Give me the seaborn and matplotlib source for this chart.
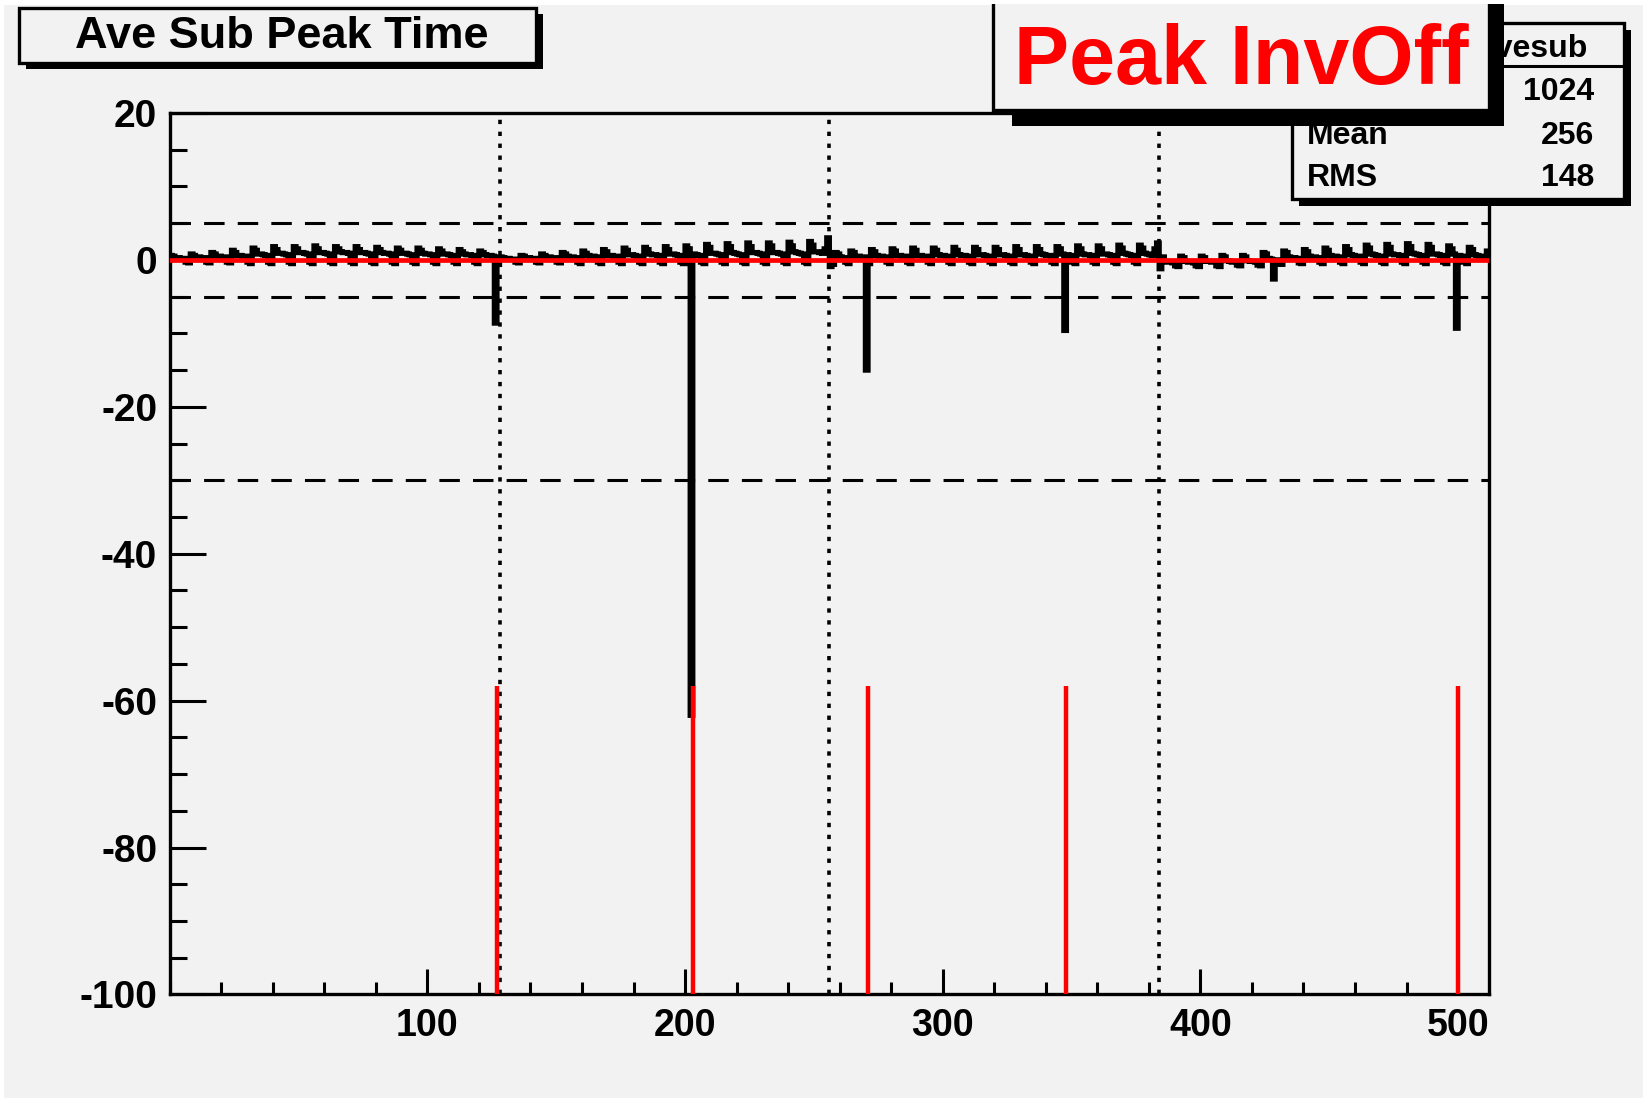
import numpy as np
import pandas as pd
import matplotlib
matplotlib.use("Agg")
import matplotlib.pyplot as plt
from matplotlib.patches import Rectangle
from matplotlib.ticker import FixedLocator, MultipleLocator
import seaborn as sns

# ---------------- data ----------------
# average subtracted peak time per channel, 512 channels (8 per row)
peak_time = [
    0.6, 0.5, 0.3, 0.3, 0.2, 0.2, -0.3, -0.4,
    0.8, 0.6, 0.4, 0.4, 0.3, 0.3, -0.3, -0.4,
    1.0, 0.8, 0.5, 0.5, 0.4, 0.4, -0.3, -0.4,
    1.3, 1.0, 0.6, 0.6, 0.5, 0.5, -0.3, -0.5,
    1.6, 1.3, 0.8, 0.8, 0.7, 0.6, -0.3, -0.5,
    1.8, 1.4, 0.9, 0.9, 0.8, 0.7, -0.3, -0.5,
    1.8, 1.5, 1.0, 1.0, 0.9, 0.8, -0.3, -0.5,
    1.9, 1.5, 1.0, 1.0, 0.9, 0.8, -0.3, -0.5,
    1.8, 1.5, 1.1, 1.0, 1.0, 0.9, -0.3, -0.5,
    1.8, 1.4, 1.0, 1.0, 0.9, 0.8, -0.3, -0.5,
    1.7, 1.4, 1.0, 0.9, 0.9, 0.8, -0.3, -0.5,
    1.6, 1.3, 0.9, 0.9, 0.8, 0.7, -0.3, -0.5,
    1.6, 1.3, 0.9, 0.8, 0.8, 0.7, -0.3, -0.5,
    1.5, 1.2, 0.8, 0.8, 0.7, 0.6, -0.3, -0.5,
    1.4, 1.1, 0.8, 0.7, 0.7, 0.6, -0.3, -0.5,
    1.2, 1.0, 0.7, 0.6, 0.6, 0.5, -8.6, -0.6,
    0.4, 0.3, 0.2, 0.2, 0.1, 0.1, -0.3, -0.4,
    0.6, 0.5, 0.3, 0.3, 0.2, 0.2, -0.3, -0.4,
    0.8, 0.6, 0.4, 0.4, 0.3, 0.3, -0.3, -0.4,
    1.0, 0.8, 0.5, 0.4, 0.4, 0.3, -0.3, -0.5,
    1.2, 0.9, 0.6, 0.5, 0.5, 0.4, -0.3, -0.5,
    1.4, 1.1, 0.6, 0.6, 0.5, 0.5, -0.3, -0.5,
    1.6, 1.3, 0.7, 0.7, 0.6, 0.5, -0.3, -0.5,
    1.7, 1.4, 0.8, 0.7, 0.7, 0.6, -0.3, -0.5,
    1.8, 1.4, 0.8, 0.8, 0.7, 0.6, -0.3, -0.5,
    1.9, 1.5, -62.0, 0.8, 0.7, 0.6, -0.3, -0.5,
    2.1, 1.7, 0.9, 0.9, 0.8, 0.7, -0.3, -0.5,
    2.2, 1.8, 1.0, 0.9, 0.8, 0.7, -0.3, -0.5,
    2.3, 1.8, 1.0, 1.0, 0.9, 0.8, -0.3, -0.5,
    2.3, 1.9, 1.0, 1.0, 0.9, 0.8, -0.3, -0.5,
    2.4, 1.9, 1.1, 1.0, 0.9, 0.8, -0.3, -0.5,
    2.5, 2.0, 1.1, 1.1, 1.0, 0.9, 1.5, 3.0,
    -0.9, -0.6, 1.0, 0.8, 0.4, 0.3, -0.3, -0.5,
    1.2, 1.0, 0.5, 0.5, 0.4, 0.4, -15.0, -0.5,
    1.4, 1.1, 0.6, 0.5, 0.5, 0.4, -0.3, -0.5,
    1.5, 1.2, 0.6, 0.6, 0.5, 0.5, -0.3, -0.5,
    1.6, 1.3, 0.6, 0.6, 0.5, 0.5, -0.3, -0.5,
    1.6, 1.3, 0.7, 0.6, 0.6, 0.5, -0.3, -0.5,
    1.7, 1.3, 0.7, 0.6, 0.6, 0.5, -0.3, -0.5,
    1.7, 1.4, 0.7, 0.7, 0.6, 0.5, -0.3, -0.5,
    1.7, 1.4, 0.7, 0.7, 0.6, 0.5, -0.3, -0.5,
    1.8, 1.4, 0.7, 0.7, 0.6, 0.5, -0.3, -0.5,
    1.8, 1.4, 0.8, 0.7, 0.6, 0.6, -0.3, -0.5,
    1.8, 1.5, 0.8, -9.6, 0.7, 0.6, -0.3, -0.5,
    1.9, 1.5, 0.8, 0.7, 0.7, 0.6, -0.3, -0.5,
    1.9, 1.5, 0.8, 0.8, 0.7, 0.6, -0.3, -0.5,
    2.0, 1.6, 0.9, 0.8, 0.7, 0.6, -0.3, -0.5,
    2.0, 1.6, 0.9, 0.8, 0.7, 0.6, 1.5, 2.3,
    -1.2, 0.4, -0.2, -0.3, -0.3, -0.4, -0.8, -0.9,
    0.5, 0.3, -0.2, -0.3, -0.3, -0.4, -0.8, -0.9,
    0.5, 0.3, -0.2, -0.2, -0.3, -0.3, -0.8, -0.9,
    0.6, 0.4, -0.1, -0.2, -0.3, -0.3, -0.7, -0.8,
    0.6, 0.4, -0.1, -0.2, -0.2, -0.3, -0.7, -0.8,
    1.0, 0.8, 0.2, 0.1, -2.6, 0.0, -0.5, -0.6,
    1.2, 1.0, 0.4, 0.3, 0.3, 0.2, -0.4, -0.5,
    1.4, 1.1, 0.5, 0.4, 0.4, 0.3, -0.3, -0.5,
    1.6, 1.3, 0.6, 0.5, 0.5, 0.4, -0.3, -0.5,
    1.8, 1.4, 0.7, 0.6, 0.5, 0.5, -0.3, -0.5,
    2.0, 1.6, 0.8, 0.7, 0.6, 0.5, -0.3, -0.5,
    2.1, 1.7, 0.8, 0.7, 0.7, 0.6, -0.3, -0.5,
    2.2, 1.8, 0.9, 0.8, 0.7, 0.6, -0.3, -0.5,
    2.1, 1.7, 0.8, 0.8, 0.7, 0.6, -0.3, -0.5,
    1.9, 1.5, 0.8, -9.3, 0.6, 0.5, -0.3, -0.5,
    1.7, 1.4, 0.7, 0.6, 0.5, 0.5, 0.4, 1.2,
]
n_channels = 512
x_range = (0, 512)
y_range = (-100, 20)
group_boundaries = [128, 256, 384]
limit_levels = [5, -5, -30]
reference_level = 0
bad_channels = [127, 203, 271, 348, 500]
bad_marker_range = (-100, -58)
x_major_ticks = [100, 200, 300, 400, 500]
x_tick_labels = ["100", "200", "300", "400", "500"]
y_major_ticks = [-100, -80, -60, -40, -20, 0, 20]
y_tick_labels = ["-100", "-80", "-60", "-40", "-20", "0", "20"]
title_text = "Ave Sub Peak Time"
flag_text = "Peak InvOff"
stats_name = "avesub"
stats_labels = ["Entries", "Mean", "RMS"]
stats_values = ["1024", "256", "148"]

# ---------------- style ----------------
W, H = 1643, 1101
GRAY = "#f2f2f2"
RED = "#ff0000"
sns.set_style("white")
plt.rcParams["font.family"] = ["Liberation Sans", "DejaVu Sans"]
plt.rcParams["font.weight"] = "bold"
plt.rcParams["text.color"] = "black"
plt.rcParams["xtick.color"] = "black"
plt.rcParams["ytick.color"] = "black"
plt.rcParams["axes.labelcolor"] = "black"

fig = plt.figure(figsize=(W / 100, H / 100), dpi=100, facecolor="white")

# canvas background (light gray with a thin white margin)
fig.patches.append(Rectangle((4 / W, 3 / H), 1 - 4 / W, 1 - 8 / H,
                             transform=fig.transFigure, facecolor=GRAY,
                             edgecolor="none", zorder=-10))

left, right, top, bottom = 169.7, 1489.0, 113.0, 994.4
ax = fig.add_axes([left / W, 1 - bottom / H, (right - left) / W, (bottom - top) / H])
ax.set_facecolor(GRAY)

df = pd.DataFrame({"channel": np.arange(n_channels) + 0.5, "value": peak_time})

# reference lines
for lv in limit_levels:
    ax.axhline(lv, color="black", lw=2.2, linestyle=(0, (6.7, 4.3)), zorder=1)
for gb in group_boundaries:
    ax.axvline(gb, color="black", lw=2.6, linestyle=(0, (1.2, 2.1)), zorder=1)

n_before = len(ax.lines)
sns.histplot(data=df, x="channel", weights="value", bins=n_channels,
             binrange=x_range, element="step", fill=False, color="black",
             linewidth=3.8, ax=ax, zorder=2)
for ln in ax.lines[n_before:]:
    ln.set_solid_joinstyle("miter")
    ln.set_solid_capstyle("butt")

ax.axhline(reference_level, color=RED, lw=3.4, zorder=3)
ax.vlines(bad_channels, bad_marker_range[0], bad_marker_range[1],
          color=RED, lw=3.2, zorder=3)

ax.set_xlim(*x_range)
ax.set_ylim(*y_range)
ax.set_xlabel("")
ax.set_ylabel("")

ax.xaxis.set_major_locator(FixedLocator(x_major_ticks))
ax.set_xticklabels(x_tick_labels)
ax.xaxis.set_minor_locator(MultipleLocator(20))
ax.yaxis.set_major_locator(FixedLocator(y_major_ticks))
ax.set_yticklabels(y_tick_labels)
ax.yaxis.set_minor_locator(MultipleLocator(5))

ax.tick_params(axis="y", which="major", direction="in", length=26, width=2.2,
               labelsize=28, pad=9, right=False, left=True, colors="black")
ax.tick_params(axis="y", which="minor", direction="in", length=12, width=2.2,
               right=False, left=True, colors="black")
ax.tick_params(axis="x", which="major", direction="in", length=18, width=2.2,
               labelsize=27, pad=10, top=False, bottom=True, colors="black")
ax.tick_params(axis="x", which="minor", direction="in", length=9, width=2.2,
               top=False, bottom=True, colors="black")
for lab in ax.get_xticklabels() + ax.get_yticklabels():
    lab.set_fontweight("bold")
    lab.set_color("black")
for sp in ax.spines.values():
    sp.set_linewidth(2.4)
    sp.set_color("black")
    sp.set_visible(True)

# ---------------- overlay boxes (pixel coordinates) ----------------
ov = fig.add_axes([0, 0, 1, 1], zorder=10)
ov.set_xlim(0, W)
ov.set_ylim(H, 0)
ov.axis("off")
ov.patch.set_alpha(0)

# title box
ov.add_patch(Rectangle((26, 14), 517, 55, facecolor="black", edgecolor="none", zorder=1))
ov.add_patch(Rectangle((19, 8), 517, 55, facecolor=GRAY, edgecolor="black", lw=2.4, zorder=2))
ov.text(282, 48, title_text, ha="center", va="baseline", fontsize=32.5,
        fontweight="bold", color="black", zorder=3)

# stats box
ov.add_patch(Rectangle((1299, 30), 332, 176, facecolor="black", edgecolor="none", zorder=1))
ov.add_patch(Rectangle((1292, 23), 332, 176, facecolor=GRAY, edgecolor="black", lw=2.4, zorder=2))
ov.plot([1292, 1624], [66, 66], color="black", lw=2.2, zorder=3)
ov.text(1588, 57, stats_name, ha="right", va="baseline", fontsize=23,
        fontweight="bold", zorder=3)
for lab, val, yb in zip(stats_labels, stats_values, [99.5, 143.5, 186.5]):
    if lab != "Entries":  # the "Entries" label lies fully under the flag box
        ov.text(1307, yb, lab, ha="left", va="baseline", fontsize=23, fontweight="bold", zorder=3)
    ov.text(1594, yb, val, ha="right", va="baseline", fontsize=23, fontweight="bold", zorder=3)

# flag box
ov.add_patch(Rectangle((1012, -20), 492, 146, facecolor="black", edgecolor="none", zorder=4))
ov.add_patch(Rectangle((993, -20), 496, 130, facecolor=GRAY, edgecolor="black", lw=2.4, zorder=5))
ov.text(1241, 84, flag_text, ha="center", va="baseline", fontsize=59.5,
        fontweight="bold", color=RED, zorder=6)

# white top margin
ov.add_patch(Rectangle((0, 0), W, 4, facecolor="white", edgecolor="none", zorder=20))

fig.savefig("out.png", dpi=100, facecolor=fig.get_facecolor())
